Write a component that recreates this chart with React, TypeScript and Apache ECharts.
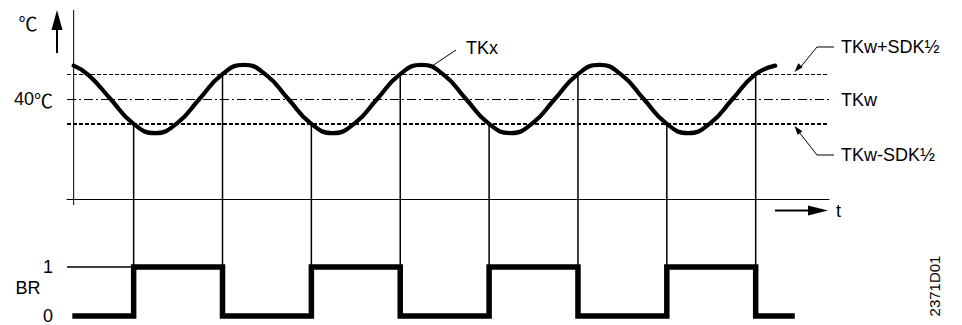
import React, { useEffect, useRef } from 'react';
import * as echarts from 'echarts';

// Time axis (arbitrary units, one half period of the cycle = 10)
const timeMin = -7.5;
const timeMax = 78.25;

// TKx: boiler temperature curve (℃)
const tkxTime = [-6.75, -5.1, -2.6, -0.1, 2.4, 4.9, 7.4, 9.9, 12.4, 14.9, 17.4, 19.9, 22.4, 24.9, 27.4, 29.9, 32.4, 34.9, 37.4, 39.9, 42.4, 44.9, 47.4, 49.9, 52.4, 54.9, 57.4, 59.9, 62.4, 64.9, 67.4, 69.9, 72.2];
const tkxTemp = [44.0, 42.9, 40.0, 37.1, 35.9, 37.1, 40.0, 42.9, 44.1, 42.9, 40.0, 37.1, 35.9, 37.1, 40.0, 42.9, 44.1, 42.9, 40.0, 37.1, 35.9, 37.1, 40.0, 42.9, 44.1, 42.9, 40.0, 37.1, 35.9, 37.1, 40.0, 42.9, 44.0];

// Levels (℃)
const levelUpper = 43; // TKw + SDK/2
const levelSet = 40; // TKw
const levelLower = 37; // TKw - SDK/2
const tempMin = 28;
const tempMax = 50.68;
const tempTickInterval = 12;
const tempTickNumber = '40';
const unitSymbol = '℃';

// BR burner relay state
const brTime = [-6.9, 0, 10, 20, 30, 40, 50, 60, 70, 74.4];
const brState = [0, 1, 0, 1, 0, 1, 0, 1, 0, 0];
const brTickLabels = ['0', '1'];

// Labels
const labelUpper = 'TKw+SDK½';
const labelSet = 'TKw';
const labelLower = 'TKw-SDK½';
const labelCurve = 'TKx';
const labelTime = 't';
const labelBR = 'BR';
const labelDoc = '2371D01';

const FONT = '"Liberation Sans", Arial, Helvetica, "Noto Sans CJK SC", "DejaVu Sans", sans-serif';
const CJK = '"Noto Sans CJK SC", "Noto Sans CJK JP", "DejaVu Sans", sans-serif';
const INK = '#000';
const FS = 18;

function arrowHead(tipX: number, tipY: number, fromX: number, fromY: number, len: number, half: number) {
  const dx = tipX - fromX;
  const dy = tipY - fromY;
  const d = Math.sqrt(dx * dx + dy * dy);
  const ux = dx / d;
  const uy = dy / d;
  const bx = tipX - ux * len;
  const by = tipY - uy * len;
  return [
    [tipX, tipY],
    [bx - uy * half, by + ux * half],
    [bx + uy * half, by - ux * half],
  ];
}

export default function App() {
  const ref = useRef<HTMLDivElement>(null);

  useEffect(() => {
    const chart = echarts.init(ref.current!, null, { renderer: 'svg' });

    const tkxData = tkxTime.map((t, i) => [t, tkxTemp[i]]);
    const brData = brTime.map((t, i) => [t, brState[i]]);

    chart.setOption({
      animation: false,
      backgroundColor: '#fff',
      textStyle: { fontFamily: FONT, color: INK },
      grid: [
        { left: 67, top: 10, width: 762, height: 189 },
        { left: 67, top: 267, width: 762, height: 51.5 },
      ],
      xAxis: [
        {
          gridIndex: 0,
          type: 'value',
          min: timeMin,
          max: timeMax,
          axisLine: { show: true, onZero: false, lineStyle: { color: INK, width: 1 } },
          axisTick: { show: false },
          axisLabel: { show: false },
          splitLine: { show: false },
        },
        {
          gridIndex: 1,
          type: 'value',
          min: timeMin,
          max: timeMax,
          axisLine: { show: false },
          axisTick: { show: false },
          axisLabel: { show: false },
          splitLine: { show: false },
        },
      ],
      yAxis: [
        {
          gridIndex: 0,
          type: 'value',
          min: tempMin,
          max: tempMax,
          interval: tempTickInterval,
          axisLine: { show: false },
          axisTick: { show: false },
          splitLine: { show: false },
          axisLabel: {
            margin: 14,
            fontSize: FS,
            color: INK,
            fontFamily: FONT,
            formatter: (v: number) => (Math.abs(v - levelSet) < 1e-6 ? `${tempTickNumber}{u|${unitSymbol}}` : ''),
            rich: {
              u: { fontFamily: CJK, fontSize: 19, color: INK },
            },
          },
        },
        {
          gridIndex: 1,
          type: 'value',
          min: 0,
          max: 1,
          interval: 1,
          axisLine: { show: false },
          axisTick: { show: false },
          splitLine: { show: false },
          axisLabel: {
            margin: 14,
            fontSize: FS,
            color: INK,
            fontFamily: FONT,
            formatter: (v: number) => brTickLabels[Math.round(v)] ?? '',
          },
        },
      ],
      series: [
        {
          name: 'TKx',
          type: 'line',
          xAxisIndex: 0,
          yAxisIndex: 0,
          data: tkxData,
          smooth: 0.5,
          showSymbol: false,
          silent: true,
          clip: false,
          z: 5,
          lineStyle: { color: INK, width: 4.2, cap: 'round', join: 'round' },
          markLine: {
            silent: true,
            symbol: 'none',
            label: { show: false },
            z: 2,
            data: [
              { yAxis: levelUpper, lineStyle: { color: INK, width: 1, type: [4, 2] } },
              { yAxis: levelSet, lineStyle: { color: INK, width: 1, type: [9, 3, 2, 3] } },
              { yAxis: levelLower, lineStyle: { color: INK, width: 2, type: [4, 2] } },
            ],
          },
        },
        {
          name: 'BR',
          type: 'line',
          xAxisIndex: 1,
          yAxisIndex: 1,
          data: brData,
          step: 'end',
          showSymbol: false,
          silent: true,
          clip: false,
          z: 5,
          lineStyle: { color: INK, width: 5.5, cap: 'butt', join: 'miter' },
          markLine: {
            silent: true,
            symbol: 'none',
            label: { show: false },
            data: [[{ coord: [timeMin, 1] }, { coord: [0, 1] }]],
            lineStyle: { color: INK, width: 1.5, type: 'solid' },
          },
        },
      ],
    });

    const p0 = (x: number, y: number) => chart.convertToPixel({ gridIndex: 0 }, [x, y]) as number[];
    const p1 = (x: number, y: number) => chart.convertToPixel({ gridIndex: 1 }, [x, y]) as number[];

    const graphic: any[] = [];
    const line = (x1: number, y1: number, x2: number, y2: number, w: number) =>
      graphic.push({ type: 'line', shape: { x1, y1, x2, y2 }, style: { stroke: INK, lineWidth: w }, silent: true, z: 10 });
    const poly = (points: number[][]) =>
      graphic.push({ type: 'polygon', shape: { points }, style: { fill: INK }, silent: true, z: 10 });
    const text = (x: number, y: number, s: string, align: string, size = FS, rotation = 0, family = FONT) =>
      graphic.push({
        type: 'text',
        x,
        y,
        rotation,
        style: { text: s, fill: INK, font: `${size}px ${family}`, align, verticalAlign: 'middle' },
        silent: true,
        z: 10,
      });

    // vertical temperature axis (crosses the time axis)
    const axisBase = p0(timeMin, tempMin);
    const yAxisX = p0(tkxTime[0], tempMin)[0];
    line(yAxisX, 10, yAxisX, axisBase[1] + 6, 1);

    // switching connectors: from the crossing of the switching level down to BR = 1
    for (let i = 1; i < brTime.length - 1; i++) {
      const lvl = brState[i] === 1 ? levelLower : levelUpper;
      const top = p0(brTime[i], lvl);
      const bottom = p1(brTime[i], 1);
      line(top[0], top[1], bottom[0], bottom[1], 1.5);
    }

    // ℃ axis arrow
    line(57, 53, 57, 26, 2);
    poly([[57, 10], [51.5, 30], [62.5, 30]]);
    text(28, 22, unitSymbol, 'center', 19, 0, CJK);

    // time arrow
    line(775, 210.5, 812, 210.5, 2);
    poly([[828, 210.5], [808, 205.5], [808, 215.5]]);
    text(836, 211, labelTime, 'left');

    // leader to upper level
    const yUp = p0(0, levelUpper)[1];
    const yLo = p0(0, levelLower)[1];
    graphic.push({
      type: 'polyline',
      shape: { points: [[834, 47], [817, 47], [799, 69]] },
      style: { stroke: INK, lineWidth: 1, fill: null },
      silent: true,
      z: 10,
    });
    poly(arrowHead(794.5, yUp - 2, 817, 47, 9, 3));
    // leader to lower level
    graphic.push({
      type: 'polyline',
      shape: { points: [[834, 155], [817, 155], [799, 132]] },
      style: { stroke: INK, lineWidth: 1, fill: null },
      silent: true,
      z: 10,
    });
    poly(arrowHead(794.5, yLo + 2, 817, 155, 9, 3));

    text(841, 47, labelUpper, 'left');
    text(841, 100, labelSet, 'left');
    text(841, 155, labelLower, 'left');

    // TKx leader
    line(456, 50, 432, 66, 1);
    text(466, 48, labelCurve, 'left');

    // BR label and drawing number
    text(28, 288, labelBR, 'center');
    text(934, 286, labelDoc, 'center', 15, Math.PI / 2);

    chart.setOption({ graphic });

    return () => chart.dispose();
  }, []);

  return <div ref={ref} style={{ position: 'fixed', left: 0, top: 0, width: 962, height: 325, background: '#fff' }} />;
}
